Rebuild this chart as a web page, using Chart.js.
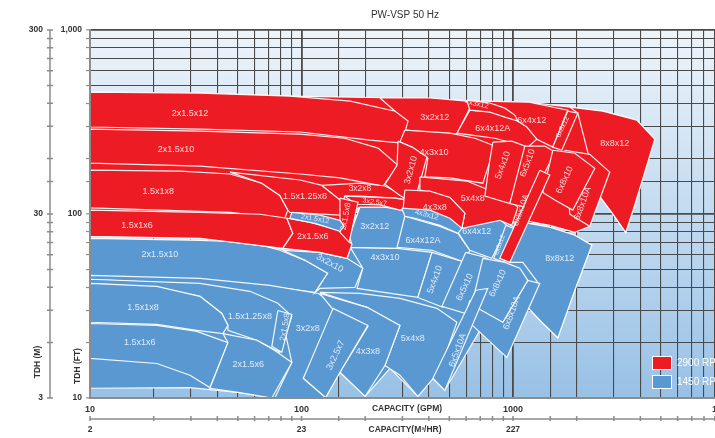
<!DOCTYPE html>
<html lang="en">

<head>
    <meta charset="UTF-8">
    <title>PW-VSP 50 Hz</title>
    <script src="https://cdn.jsdelivr.net/npm/chart.js"></script>
    <style>
        html, body { margin: 0; padding: 0; background: #fff; overflow: hidden; }
    </style>
</head>

<body>
    <canvas id="graficoBombas" width="745" height="438"></canvas>
</body>

</html>
<script>
    // eixos
    const gpmTicks = [10, 100, 1000, 10000]
    const gpmTickLabels = ['10', '100', '1000', '10000']
    const m3hTickLabels = ['2', '23', '227', '2271']
    const ftTicks = [10, 100, 1000]
    const ftTickLabels = ['10', '100', '1,000']
    const mTickLabels = ['3', '30', '300']
    const series = ['2900 RPM', '1450 RPM']

    const corVermelho = '#ed1c24'
    const corAzul = '#5a98d2'

    // areas 1450 rpm (GPM, FT)
    const azulBase = [[10,73.8],[33.1,71.9],[81.6,64.3],[166,71.9],[189,109],[298,107.5],[405,105],[573,97.2],[866,93.6],[998,85.7],[1113,90.1],[1493,84.7],[1960,76.6],[2358,67.6],[1960,38.5],[1629,21.3],[1368,25.8],[1175,31.1],[935,16.8],[697,23.3],[476,11],[418,12.8],[355,10.2],[262,14.5],[200,10.2],[152,13.8],[130,10.06],[74.8,10],[51.1,10.7],[29.7,11.4],[10,11.3]]
    const a_2x15x10 = [[10,73.8],[33.1,71.9],[57,70.2],[79,63.5],[104,56],[133,47.6],[116,37.5],[70.9,40.4],[33.1,42.5],[10,46.4]]
    const a_3x2x8 = [[10,46.4],[33.1,44.7],[70.9,40.9],[120,37],[144,32.3],[149,29.5],[102,12.8],[130,10.06],[74.8,10],[90,15.6],[83.4,23.3],[70.9,29.9],[57,33.9],[33.1,41.5],[10,44.2]]
    const a_15x125x8 = [[10,44.2],[33.1,42],[57,38],[77.3,32.7],[90,27.8],[79,17.7],[61.5,20.6],[44.9,23.3],[44.9,24.8],[42,28.8],[33.1,35.7],[20.7,39.9],[10,42]]
    const a_2x15x8 = [[77.3,29.9],[90,28.5],[80.7,17.7],[72.4,19.1]]
    const a_15x1x8 = [[10,42],[20.7,40.4],[33.1,35.7],[42,28.8],[44.9,24.8],[42.5,22.4],[32,23.3],[20.7,25.1],[10,25.8]]
    const a_15x1x6 = [[10,25.4],[20.7,24.8],[32,23],[44.9,20],[36.9,11.4],[29.7,13.3],[20.7,15.4],[10,16.4]]
    const a_2x15x6 = [[42.5,22.4],[61.5,20.6],[74.8,18.1],[90,15.6],[72.4,10],[51.1,10.7],[36.9,11.3],[44.9,20]]
    const a_5x4x8 = [[122,37.5],[189,37],[292,34.8],[437,30.7],[543,25.8],[451,14.1],[355,10.2],[292,13.3],[248,15],[292,24.8],[204,31.1]]
    const a_4x3x8 = [[122,37],[204,31.1],[292,24.8],[248,15],[200,10.2],[152,13.8],[206,24.5],[141,30.3]]
    const a_3x25x7 = [[141,30.7],[206,24.8],[152,13.8],[130,10.06],[102,12.8]]
    const a_3x2x10 = [[81.6,63.5],[122,61.9],[164,57.4],[195,50.7],[179,39.9],[122,39.4],[116,37.5],[133,47.6],[104,56]]
    const a_4x3x10 = [[170,65.9],[283,65.1],[414,61.9],[355,35.2],[183,39.4],[195,50.7]]
    const a_5x4x10 = [[414,61.9],[598,54.6],[466,31.1],[355,35.2]]
    const a_3x2x12 = [[189,109],[248,109],[298,105],[319,98.5],[292,65.1],[170,65.9],[166,71.9]]
    const a_6x4x12A = [[308,97.2],[451,85.7],[549,78.5],[625,63.5],[592,54.6],[414,63.5],[283,65.9]]
    const a_6x4x12 = [[573,97.2],[866,93.6],[945,85.7],[794,57.4],[625,63.5],[549,79.5]]
    const a_6x5x12 = [[925,86.8],[1009,83.6],[905,54.6],[811,57.4]]
    const a_8x8x12 = [[1113,90.1],[1493,84.7],[1960,76.6],[2358,67.6],[1960,38.5],[1629,21.3],[1368,25.8],[1175,31.1],[1310,42.5],[1113,54.6],[966,54.6]]
    const a_6x5x10 = [[598,61.9],[736,58.2],[821,53.3],[598,28.8],[461,31.5]]
    const a_6x8x10A = [[625,33.9],[895,25.8],[1175,43.6],[1339,42],[935,16.6],[682,23.3],[592,27.1]]
    const a_6x8x10 = [[720,57.4],[915,54.6],[1077,50.7],[1175,43.6],[895,25.8],[682,30.7],[646,33.9]]
    const a_6x5x10A = [[667,38.5],[760,39.4],[476,11],[418,12.8]]
    const a_4x3x12 = [[298,107.5],[405,105],[503,94.8],[573,83.6],[549,78.5],[451,86.8],[344,94.8],[308,97.2]]
    const a_2x15x12 = [[90,102],[122,98.5],[152,92.4],[159,85.7],[152,80.5],[116,89],[88.1,94.8]]

    // areas 2900 rpm (GPM, FT)
    const vermelhoBase = [[10,460],[33.1,454],[88.1,437],[292,427],[697,411],[1175,406],[1856,381],[2657,362],[3846,324],[4678,255],[4197,169],[3764,112],[3411,79.5],[2930,102],[2489,131],[2307,85.7],[1960,79.5],[1493,86.8],[1113,92.4],[998,90.1],[866,92.4],[561,97.2],[363,109],[189,109],[157,98.5],[173,68.4],[164,57.4],[122,61.9],[81.6,65.1],[33.1,73.8],[10,75.6]]
    const v_3x2x12 = [[235,427],[405,427],[605,411],[632,386],[543,272],[405,278],[308,286],[277,362]]
    const v_2x15x12 = [[10,460],[33.1,454],[88.1,437],[170,411],[277,362],[319,320],[298,243],[211,252],[98.4,279],[33.1,289],[10,297]]
    const v_2x15x10 = [[10,289],[33.1,282],[98.4,272],[160,258],[230,228],[286,184],[243,142],[152,157],[98.4,165],[33.1,182],[10,189]]
    const v_15x1x8 = [[10,173],[26.6,171],[45.9,165],[64.9,147],[79,126],[86.2,105],[83.4,94.8],[45.9,102],[21.4,105],[10,108]]
    const v_15x125x8 = [[45.9,169],[98.4,153],[125,143],[157,116],[152,98.5],[88.1,102],[86.2,105],[79,126],[64.9,147]]
    const v_15x1x6 = [[10,105],[33.1,102],[63.6,99.7],[85.3,94.8],[91,78.5],[81.6,65.1],[33.1,73.8],[10,75.6]]
    const v_2x15x6 = [[85.3,94.8],[110,90.1],[152,81.5],[173,68.4],[164,57.4],[122,61.9],[81.6,65.1],[91,78.5]]
    const v_3x2x8 = [[125,143],[189,147],[248,142],[286,131],[315,119],[277,122],[189,125],[160,125],[157,116]]
    const v_3x25x7 = [[160,125],[277,122],[315,119],[340,110],[292,105],[235,112],[181,113]]
    const v_2x15x8 = [[152,122],[185,116],[168,70.2],[152,79.5]]
    const v_4x3x10 = [[308,286],[503,275],[660,258],[821,234],[720,147],[503,157],[383,159],[396,201],[333,231],[292,246]]
    const v_3x2x10 = [[286,249],[333,231],[392,204],[340,114],[292,126],[248,145],[283,184]]
    const v_5x4x8 = [[363,159],[605,151],[935,123],[1054,109],[987,86.8],[866,92.4],[573,83.6],[592,101],[503,123],[363,135]]
    const v_4x3x8 = [[308,135],[405,133],[503,123],[592,101],[573,83.6],[451,86.8],[344,96],[302,105]]
    const v_6x4x12 = [[712,411],[1175,406],[1815,367],[1542,231],[1296,255],[1054,316],[987,353],[821,386]]
    const v_6x4x12A = [[625,367],[821,358],[987,336],[1162,297],[1296,255],[1175,231],[821,258],[543,275]]
    const v_4x3x12 = [[605,416],[777,401],[915,376],[1020,345],[1054,320],[915,336],[777,358],[625,367]]
    const v_5x4x10 = [[803,246],[987,249],[1175,231],[966,114],[736,125],[777,196]]
    const v_6x5x10 = [[1137,234],[1414,234],[1577,217],[1175,108],[966,114]]
    const v_8x8x12 = [[1856,381],[2657,362],[3846,324],[4678,255],[4197,169],[3764,112],[3411,79.5],[2930,102],[2489,131],[2307,196],[2025,353]]
    const v_6x8x12 = [[1815,362],[2025,353],[1701,222],[1542,231]]
    const v_6x8x10A = [[1757,222],[2307,211],[2867,169],[2307,85.7],[1856,99.7]]
    const v_6x8x10 = [[1542,222],[1960,214],[2436,177],[1917,105],[1577,119],[1383,131]]
    const v_6x5x10A = [[1339,173],[1493,163],[966,54.6],[866,57.4]]

    // rotulos: texto, GPM, FT, angulo, tamanho
    const rotulosVermelhos = [
        ['2x1.5x12', 29.7, 353, 0], ['2x1.5x10', 25.5, 225, 0], ['1.5x1x8', 21, 132, 0],
        ['1.5x1x6', 16.7, 87, 0], ['1.5x1.25x8', 104, 124, 0], ['2x1.5x8', 162, 97, -80, 8],
        ['2x1.5x6', 113, 75, 0], ['3x2x8', 189, 138, 0, 8.5], ['3x2.5x7', 222, 116, 8, 7],
        ['3x2x10', 329, 173, -75], ['3x2x12', 427, 336, 0], ['4x3x12', 674, 396, 12, 7.5],
        ['6x4x12A', 803, 293, 0], ['6x4x12', 1227, 324, 0], ['6x8x12', 1718, 297, -65, 7],
        ['8x8x12', 3026, 243, 0], ['4x3x10', 423, 217, 0], ['5x4x10', 895, 184, -70],
        ['6x5x10', 1173, 189, -70], ['6x8x10', 1756, 153, -65], ['6x8x10A', 2137, 114, -70],
        ['4x3x8', 427, 109, 0], ['5x4x8', 646, 122, 0], ['6x5x10A', 1090, 105, -70, 8.5]
    ]
    const rotulosAzuis = [
        ['2x1.5x10', 21.4, 60, 0], ['3x2x10', 136, 54, 28], ['4x3x10', 248, 58, 0],
        ['3x2x12', 222, 85, 0], ['6x4x12A', 375, 72, 0], ['6x4x12', 674, 80, 0],
        ['6x5x12', 866, 68, -70, 6.5], ['8x8x12', 1663, 57, 0], ['6x8x10', 847, 42, -65],
        ['6x8x10A', 987, 29, -70], ['6x5x10', 592, 40, -65], ['5x4x10', 427, 44, -70],
        ['6x5x10A', 548, 18.2, -70], ['5x4x8', 336, 21, 0], ['4x3x8', 206, 17.8, 0],
        ['3x2.5x7', 145, 17.1, -65], ['3x2x8', 107, 24, 0], ['2x1.5x8', 83.5, 24.3, -80, 8],
        ['1.5x1.25x8', 57, 27.6, 0], ['1.5x1x8', 17.8, 31.2, 0], ['1.5x1x6', 17.2, 20.1, 0],
        ['2x1.5x6', 56, 15.3, 0], ['2x1.5x12', 116, 94, 10, 7], ['4x3x12', 391, 99, 15, 7.5]
    ]

    const camadas = [
        [azulBase, corAzul, series[1]], [a_2x15x10, corAzul, series[1]], [a_3x2x8, corAzul, series[1]],
        [a_15x125x8, corAzul, series[1]], [a_2x15x8, corAzul, series[1]], [a_15x1x8, corAzul, series[1]],
        [a_15x1x6, corAzul, series[1]], [a_2x15x6, corAzul, series[1]], [a_5x4x8, corAzul, series[1]],
        [a_4x3x8, corAzul, series[1]], [a_3x25x7, corAzul, series[1]], [a_3x2x10, corAzul, series[1]],
        [a_4x3x10, corAzul, series[1]], [a_5x4x10, corAzul, series[1]], [a_3x2x12, corAzul, series[1]],
        [a_6x4x12A, corAzul, series[1]], [a_6x4x12, corAzul, series[1]], [a_6x5x12, corAzul, series[1]],
        [a_8x8x12, corAzul, series[1]], [a_6x5x10, corAzul, series[1]], [a_6x8x10A, corAzul, series[1]],
        [a_6x8x10, corAzul, series[1]], [a_6x5x10A, corAzul, series[1]],
        [vermelhoBase, corVermelho, series[0]], [v_3x2x12, corVermelho, series[0]], [v_2x15x12, corVermelho, series[0]],
        [v_2x15x10, corVermelho, series[0]], [v_15x1x8, corVermelho, series[0]], [v_15x125x8, corVermelho, series[0]],
        [v_15x1x6, corVermelho, series[0]], [v_2x15x6, corVermelho, series[0]], [v_3x2x8, corVermelho, series[0]],
        [v_3x25x7, corVermelho, series[0]], [v_2x15x8, corVermelho, series[0]], [v_4x3x10, corVermelho, series[0]],
        [v_3x2x10, corVermelho, series[0]], [v_5x4x8, corVermelho, series[0]], [v_4x3x8, corVermelho, series[0]],
        [v_6x4x12, corVermelho, series[0]], [v_6x4x12A, corVermelho, series[0]], [v_4x3x12, corVermelho, series[0]],
        [v_5x4x10, corVermelho, series[0]], [v_6x5x10, corVermelho, series[0]], [v_8x8x12, corVermelho, series[0]],
        [v_6x8x12, corVermelho, series[0]], [v_6x8x10A, corVermelho, series[0]], [v_6x8x10, corVermelho, series[0]],
        [v_6x5x10A, corVermelho, series[0]],
        [a_2x15x12, corAzul, series[1]], [a_4x3x12, corAzul, series[1]]
    ]

    const datasets = camadas.map(function (c, i) {
        const pontos = c[0].map(p => ({ x: p[0], y: p[1] }))
        pontos.push({ x: c[0][0][0], y: c[0][0][1] })
        return {
            label: c[2],
            data: pontos,
            showLine: true,
            fill: 'shape',
            backgroundColor: c[1],
            borderColor: 'rgba(255,255,255,0.92)',
            borderWidth: 1.2,
            pointRadius: 0,
            pointHoverRadius: 0,
            tension: 0,
            order: -i
        }
    })

    function eDecada(v) {
        const l = Math.log10(v)
        return Math.abs(l - Math.round(l)) < 1e-6
    }

    const fonte = '"Liberation Sans", Arial, sans-serif'

    function desenhaRotulos(ctx, x, y, lista, cor) {
        lista.forEach(function (r) {
            ctx.save()
            ctx.translate(x.getPixelForValue(r[1]), y.getPixelForValue(r[2]))
            ctx.rotate(r[3] * Math.PI / 180)
            ctx.font = (r[4] || 9) + 'px ' + fonte
            ctx.fillStyle = cor
            ctx.textAlign = 'center'
            ctx.textBaseline = 'middle'
            ctx.fillText(r[0], 0, 0)
            ctx.restore()
        })
    }

    const extras = {
        id: 'extras',
        beforeDraw(chart) {
            const { ctx, chartArea: a } = chart
            const g = ctx.createLinearGradient(0, a.top, 0, a.bottom)
            g.addColorStop(0, '#edf4fa')
            g.addColorStop(1, '#98c1e6')
            ctx.save()
            ctx.fillStyle = g
            ctx.fillRect(a.left, a.top, a.right - a.left, a.bottom - a.top)
            ctx.restore()
        },
        afterDatasetsDraw(chart) {
            const { ctx, scales: { x, y } } = chart
            desenhaRotulos(ctx, x, y, rotulosVermelhos, 'rgba(255,236,236,0.9)')
            desenhaRotulos(ctx, x, y, rotulosAzuis, 'rgba(238,245,255,0.9)')
        },
        afterDraw(chart) {
            const { ctx, chartArea: a, scales: { x, y } } = chart
            ctx.save()
            ctx.strokeStyle = '#8c8c8c'
            ctx.lineWidth = 1.5
            ctx.fillStyle = '#333'
            ctx.font = 'bold 8.5px ' + fonte

            // eixo TDH (M)
            ctx.beginPath()
            ctx.moveTo(50, a.top)
            ctx.lineTo(50, a.bottom)
            y.ticks.forEach(function (t) {
                const py = y.getPixelForValue(t.value)
                ctx.moveTo(47, py)
                ctx.lineTo(53, py)
            })
            ctx.stroke()
            ctx.textAlign = 'right'
            ctx.textBaseline = 'middle'
            ftTicks.forEach(function (v, i) {
                ctx.fillText(mTickLabels[i], 43, y.getPixelForValue(v))
            })

            // eixo CAPACITY (M3/HR)
            ctx.beginPath()
            ctx.moveTo(a.left, 419)
            ctx.lineTo(chart.width, 419)
            x.ticks.forEach(function (t) {
                const px = x.getPixelForValue(t.value)
                ctx.moveTo(px, 416)
                ctx.lineTo(px, 421)
            })
            ctx.stroke()
            ctx.textAlign = 'center'
            gpmTicks.forEach(function (v, i) {
                ctx.fillText(m3hTickLabels[i], x.getPixelForValue(v), 430)
            })

            // titulos
            ctx.fillText('CAPACITY (GPM)', 407, 409)
            ctx.fillText('CAPACITY(M³/HR)', 405, 430)
            ctx.save()
            ctx.translate(78, 366)
            ctx.rotate(-Math.PI / 2)
            ctx.fillText('TDH (FT)', 0, 0)
            ctx.restore()
            ctx.save()
            ctx.translate(38, 362)
            ctx.rotate(-Math.PI / 2)
            ctx.fillText('TDH (M)', 0, 0)
            ctx.restore()
            ctx.font = '10px ' + fonte
            ctx.fillStyle = '#333'
            ctx.fillText('PW-VSP 50 Hz', 405, 15)

            // legenda
            const cores = [corVermelho, corAzul]
            series.forEach(function (s, i) {
                const topo = 356 + i * 19
                ctx.fillStyle = cores[i]
                ctx.fillRect(652, topo, 19, 13)
                ctx.strokeStyle = '#fff'
                ctx.lineWidth = 1
                ctx.strokeRect(652.5, topo + 0.5, 19, 13)
                ctx.fillStyle = '#fff'
                ctx.textAlign = 'left'
                ctx.font = '10px ' + fonte
                ctx.fillText(s, 677, topo + 7)
            })
            ctx.restore()
        }
    }

    const grafico = document.getElementById('graficoBombas')

    new Chart(grafico, {
        type: 'scatter',
        data: { datasets: datasets },
        options: {
            responsive: false,
            animation: false,
            devicePixelRatio: 1,
            events: [],
            layout: { padding: { top: 30, right: 20.5, left: 0, bottom: 0 } },
            plugins: {
                legend: { display: false },
                tooltip: { enabled: false },
                filler: { drawTime: 'beforeDatasetDraw' }
            },
            scales: {
                x: {
                    type: 'logarithmic',
                    position: 'bottom',
                    min: 10,
                    max: 10000,
                    grid: {
                        color: '#4a4a4a',
                        lineWidth: c => (c.tick && eDecada(c.tick.value)) ? 1.8 : 1.1,
                        drawTicks: false
                    },
                    border: { color: '#8c8c8c', width: 2, z: 1 },
                    ticks: {
                        autoSkip: false,
                        maxRotation: 0,
                        padding: 6,
                        color: '#333',
                        font: { family: fonte, size: 9, weight: 'bold' },
                        callback: function (v) {
                            const i = gpmTicks.findIndex(t => Math.abs(t - v) < 1e-6)
                            return i >= 0 ? gpmTickLabels[i] : ''
                        }
                    },
                    afterFit: function (s) { s.height = 40 }
                },
                y: {
                    type: 'logarithmic',
                    position: 'left',
                    min: 10,
                    max: 1000,
                    grid: {
                        color: '#4a4a4a',
                        lineWidth: c => (c.tick && eDecada(c.tick.value)) ? 1.8 : 1.1,
                        tickColor: '#8c8c8c',
                        tickWidth: 1.2,
                        tickLength: 4
                    },
                    border: { color: '#8c8c8c', width: 2, z: 1 },
                    ticks: {
                        autoSkip: false,
                        padding: 4,
                        color: '#333',
                        font: { family: fonte, size: 8.5, weight: 'bold' },
                        callback: function (v) {
                            const i = ftTicks.findIndex(t => Math.abs(t - v) < 1e-6)
                            return i >= 0 ? ftTickLabels[i] : ''
                        }
                    },
                    afterFit: function (s) { s.width = 90 }
                }
            }
        },
        plugins: [extras]
    });
</script>
